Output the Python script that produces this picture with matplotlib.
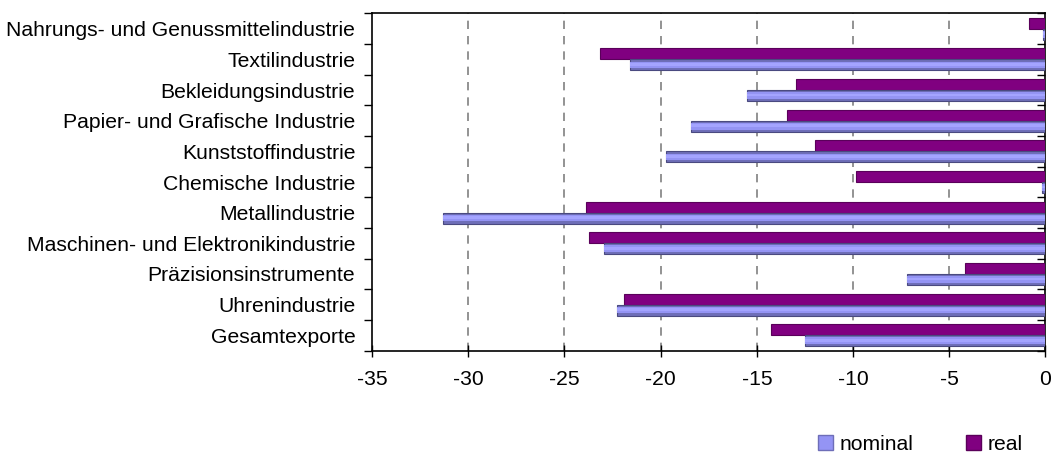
import numpy as np
import matplotlib.pyplot as plt
from matplotlib.patches import Patch

plt.rcParams['font.family'] = ['Liberation Sans', 'DejaVu Sans']

# Veränderung der Exporte nach Branche (in %)
branchen = [
    "Nahrungs- und Genussmittelindustrie",
    "Textilindustrie",
    "Bekleidungsindustrie",
    "Papier- und Grafische Industrie",
    "Kunststoffindustrie",
    "Chemische Industrie",
    "Metallindustrie",
    "Maschinen- und Elektronikindustrie",
    "Präzisionsinstrumente",
    "Uhrenindustrie",
    "Gesamtexporte",
]
nominal = [-0.15, -21.6, -15.5, -18.4, -19.7, -0.2, -31.3, -22.95, -7.2, -22.25, -12.5]
real = [-0.85, -23.15, -12.95, -13.45, -12.0, -9.85, -23.9, -23.7, -4.2, -21.9, -14.25]

fig = plt.figure(figsize=(10.52, 4.57), dpi=100)
ax = fig.add_axes([0.3536, 0.233, 0.9938 - 0.3536, 0.9705 - 0.233])

y = np.arange(len(branchen))
h = 0.36
fs = 15.2

# real: oben, violett
ax.barh(y - h / 2, real, height=h, color='#800080', edgecolor='#5a005a',
        linewidth=0.8, zorder=3)

# nominal: unten, mit hellem Streifen in der Mitte
ax.barh(y + h / 2, nominal, height=h, color='#6e6eb8', edgecolor='#4a4a80',
        linewidth=0.8, zorder=3)
ax.barh(y + h / 2, nominal, height=h * 0.6, color='#9494f4', linewidth=0, zorder=4)
ax.barh(y + h / 2 - h * 0.05, nominal, height=h * 0.25, color='#a4a4ff',
        linewidth=0, zorder=5)

ax.set_xlim(-35, 0)
ax.set_ylim(len(branchen) - 0.5, -0.5)

ax.set_xticks(np.arange(-35, 1, 5))
ax.set_xticklabels([str(v) for v in range(-35, 1, 5)])
ax.set_yticks(y)
ax.set_yticklabels(branchen)
ax.set_yticks(np.arange(-0.5, len(branchen)), minor=True)

ax.tick_params(axis='y', which='major', length=0, pad=12, labelsize=fs)
ax.tick_params(axis='y', which='minor', length=6, width=1, direction='out')
ax.tick_params(axis='x', which='major', length=8, width=1, direction='inout',
               labelsize=fs, pad=10)

# Striche an der Nulllinie nach innen
ax2 = ax.twinx()
ax2.set_ylim(ax.get_ylim())
ax2.set_yticks(np.arange(-0.5, len(branchen)), minor=True)
ax2.set_yticks([])
ax2.tick_params(axis='y', which='minor', length=6, width=1, direction='in')
for s in ax2.spines.values():
    s.set_visible(False)

for s in ax.spines.values():
    s.set_color('black')
    s.set_linewidth(1.2)

for xv in range(-30, 0, 5):
    ax.axvline(xv, color='#808080', linewidth=1.2, linestyle=(0, (5, 4.2)), zorder=1)

handles = [Patch(facecolor='#9494f4', edgecolor='#6e6eb8', label='nominal'),
           Patch(facecolor='#800080', edgecolor='#5a005a', label='real')]
fig.legend(handles=handles, loc='lower right', bbox_to_anchor=(0.99, -0.035),
           ncol=2, frameon=False, fontsize=fs, handlelength=0.7,
           handleheight=0.7, handletextpad=0.3, columnspacing=2.5)

fig.savefig('out.png', dpi=100)
